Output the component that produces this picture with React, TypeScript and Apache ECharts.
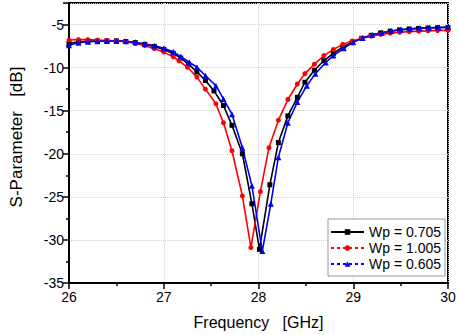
import React, { useEffect, useRef } from "react";
import * as echarts from "echarts";

// Wp = 0.705 (black, squares)
const FREQ_705 = [26.0, 26.1, 26.2, 26.3, 26.4, 26.5, 26.6, 26.7, 26.8, 26.9, 27.0, 27.1, 27.18, 27.26, 27.35, 27.44, 27.53, 27.63, 27.72, 27.83, 27.93, 28.01, 28.12, 28.21, 28.31, 28.41, 28.49, 28.59, 28.69, 28.79, 28.89, 28.99, 29.09, 29.19, 29.29, 29.39, 29.49, 29.59, 29.69, 29.79, 29.89, 30.0];
const DB_705 = [-7.2, -7.0, -6.95, -6.9, -6.9, -6.9, -6.97, -7.1, -7.3, -7.55, -7.9, -8.35, -8.9, -9.6, -10.5, -11.5, -12.7, -14.4, -16.7, -20.0, -25.8, -31.1, -23.6, -18.7, -15.6, -13.45, -11.7, -10.3, -9.2, -8.35, -7.6, -7.05, -6.6, -6.25, -5.97, -5.77, -5.62, -5.52, -5.45, -5.4, -5.37, -5.35];

// Wp = 1.005 (red, circles)
const FREQ_1005 = [26.0, 26.1, 26.2, 26.3, 26.4, 26.5, 26.6, 26.7, 26.8, 26.9, 27.0, 27.1, 27.16, 27.25, 27.35, 27.44, 27.55, 27.63, 27.72, 27.83, 27.92, 28.02, 28.11, 28.21, 28.31, 28.41, 28.49, 28.59, 28.69, 28.79, 28.89, 28.99, 29.09, 29.19, 29.29, 29.39, 29.49, 29.59, 29.69, 29.79, 29.89, 30.0];
const DB_1005 = [-6.8, -6.75, -6.75, -6.8, -6.85, -6.9, -7.0, -7.2, -7.45, -7.8, -8.2, -8.75, -9.2, -9.96, -11.1, -12.5, -14.2, -16.4, -19.65, -24.9, -30.9, -24.4, -19.3, -16.1, -13.7, -11.9, -10.7, -9.6, -8.6, -7.9, -7.3, -6.9, -6.6, -6.35, -6.15, -6.0, -5.9, -5.82, -5.77, -5.73, -5.7, -5.68];

// Wp = 0.605 (blue, triangles)
const FREQ_605 = [26.0, 26.1, 26.2, 26.3, 26.4, 26.5, 26.6, 26.7, 26.8, 26.9, 27.0, 27.1, 27.18, 27.27, 27.35, 27.44, 27.55, 27.63, 27.72, 27.83, 27.93, 28.04, 28.13, 28.21, 28.31, 28.41, 28.51, 28.6, 28.71, 28.79, 28.9, 29.0, 29.1, 29.2, 29.3, 29.4, 29.5, 29.6, 29.7, 29.8, 29.9, 30.0];
const DB_605 = [-7.4, -7.1, -7.0, -6.95, -6.9, -6.9, -6.95, -7.05, -7.25, -7.45, -7.75, -8.15, -8.72, -9.38, -9.96, -10.93, -12.1, -13.64, -15.4, -19.3, -23.7, -31.3, -25.8, -20.4, -16.4, -14.0, -12.1, -10.7, -9.4, -8.6, -7.75, -7.05, -6.55, -6.2, -5.95, -5.75, -5.6, -5.5, -5.42, -5.37, -5.33, -5.3];

const SERIES_NAMES = ["Wp = 0.705", "Wp = 1.005", "Wp = 0.605"];

const X_MIN = 26;
const X_MAX = 30;
const Y_MIN = -35;
const Y_MAX = -2.5;

const pairs = (f: number[], v: number[]) => f.map((x, i) => [x, v[i]]);

export default function App() {
  const ref = useRef<HTMLDivElement>(null);
  useEffect(() => {
    if (!ref.current) return;
    const chart = echarts.init(ref.current, null, { renderer: "svg" });
    const font = "Arial, 'Liberation Sans', sans-serif";
    const splitLine = { show: true, lineStyle: { color: "#c9d0e0", type: "dotted" as const, width: 1 } };
    chart.setOption({
      animation: false,
      backgroundColor: "#ffffff",
      grid: {
        left: 68,
        right: 11,
        top: 3,
        bottom: 52,
        show: true,
        borderColor: "#000",
        borderWidth: 2,
        backgroundColor: "transparent",
      },
      xAxis: {
        type: "value",
        min: X_MIN,
        max: X_MAX,
        interval: 1,
        name: "Frequency   [GHz]",
        nameLocation: "middle",
        nameGap: 31,
        nameTextStyle: { fontSize: 16, fontFamily: font, color: "#000" },
        axisLine: { show: true, onZero: false, lineStyle: { color: "#000", width: 2 } },
        axisTick: { show: true, length: 6, lineStyle: { color: "#000", width: 1.5 } },
        minorTick: { show: true, splitNumber: 2, length: 3, lineStyle: { color: "#000", width: 1.5 } },
        axisLabel: { fontSize: 14, fontFamily: font, color: "#000", margin: 7 },
        splitLine,
      },
      yAxis: {
        type: "value",
        min: Y_MIN,
        max: Y_MAX,
        interval: 5,
        name: "S-Parameter   [dB]",
        nameLocation: "middle",
        nameGap: 44,
        nameTextStyle: { fontSize: 17, fontFamily: font, color: "#000", padding: [0, 0, 0, 12] },
        axisLine: { show: true, onZero: false, lineStyle: { color: "#000", width: 2 } },
        axisTick: { show: true, length: 6, lineStyle: { color: "#000", width: 1.5 } },
        minorTick: { show: true, splitNumber: 2, length: 3, lineStyle: { color: "#000", width: 1.5 } },
        axisLabel: {
          fontSize: 14,
          fontFamily: font,
          color: "#000",
          margin: 5,
          showMaxLabel: false,
          formatter: (v: number) => (v % 5 === 0 ? String(v) : ""),
        },
        splitLine,
      },
      legend: {
        orient: "vertical",
        left: 328,
        top: 219,
        itemWidth: 33,
        itemHeight: 7,
        itemGap: 2,
        padding: [6, 4, 5, 2],
        backgroundColor: "#fff",
        borderColor: "#999",
        borderWidth: 1,
        borderRadius: 0,
        textStyle: { fontSize: 14, fontFamily: font, color: "#000", padding: [0, 0, 0, 0] },
        data: [
          { name: SERIES_NAMES[0] },
          { name: SERIES_NAMES[1], lineStyle: { type: [3, 3] } },
          { name: SERIES_NAMES[2], lineStyle: { type: [3, 3] } },
        ],
      },
      series: [
        {
          name: SERIES_NAMES[0],
          type: "line",
          data: pairs(FREQ_705, DB_705),
          symbol: "rect",
          symbolSize: 5,
          showAllSymbol: true,
          lineStyle: { color: "#000", width: 1.6 },
          itemStyle: { color: "#000" },
        },
        {
          name: SERIES_NAMES[1],
          type: "line",
          data: pairs(FREQ_1005, DB_1005),
          symbol: "circle",
          symbolSize: 5,
          showAllSymbol: true,
          lineStyle: { color: "#ff0000", width: 1.6 },
          itemStyle: { color: "#ff0000" },
        },
        {
          name: SERIES_NAMES[2],
          type: "line",
          data: pairs(FREQ_605, DB_605),
          symbol: "triangle",
          symbolSize: 6,
          showAllSymbol: true,
          lineStyle: { color: "#0000ff", width: 1.6 },
          itemStyle: { color: "#0000ff" },
        },
      ],
    });
    return () => chart.dispose();
  }, []);
  return (
    <div
      ref={ref}
      style={{ position: "fixed", left: 0, top: 0, width: 459, height: 335, background: "#fff" }}
    />
  );
}
